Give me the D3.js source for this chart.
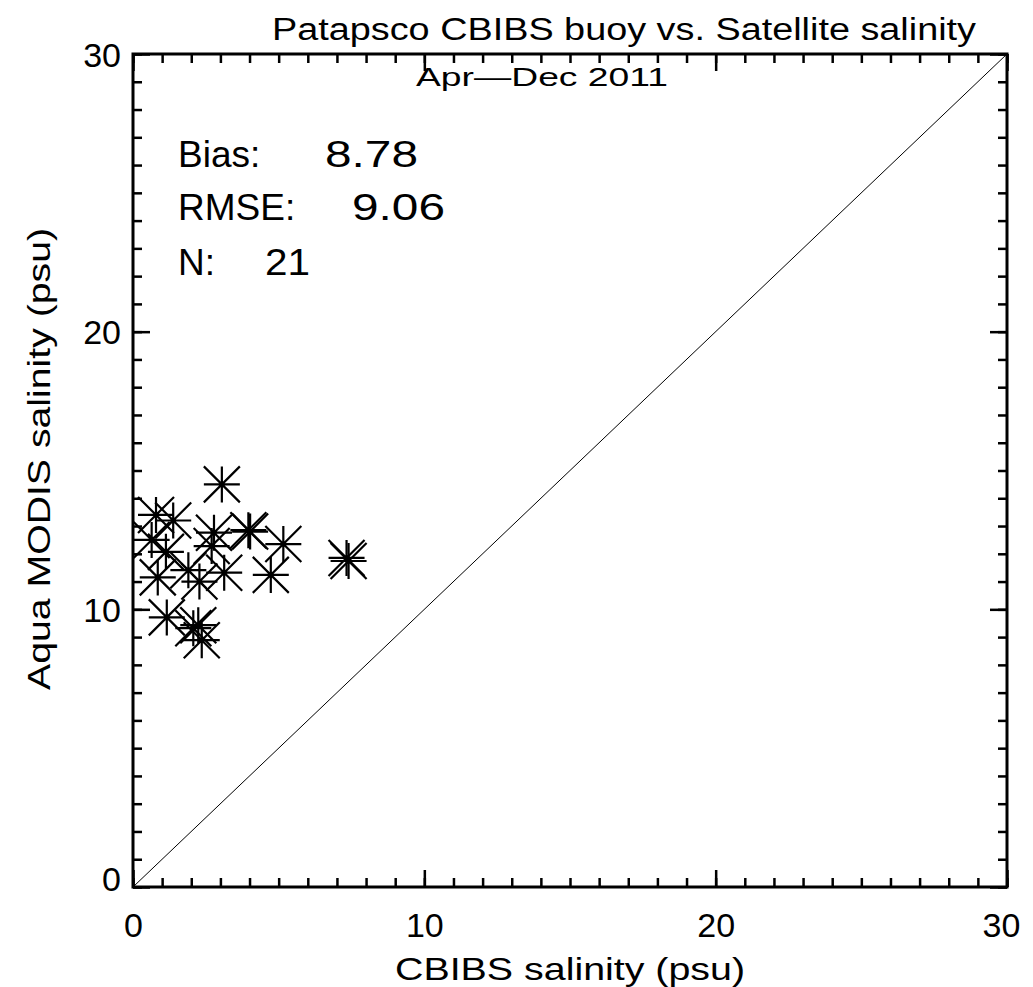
<!DOCTYPE html>
<html>
<head>
<meta charset="utf-8">
<script src="https://cdn.jsdelivr.net/npm/d3@7"></script>
<style>
  body { margin: 0; background: #fff; }
  svg { display: block; }
  text { font-family: "Liberation Sans", Arial, sans-serif; fill: #000; }
</style>
</head>
<body>
<div id="chart"></div>
<script>
// buoy (x) vs satellite (y) salinity, psu
const cbibs = [3.05, 0.79, 1.38, 3.96, 4.02, 2.78, 5.16, 0.64, 2.70, 1.13, 1.90,
               0.85, 2.28, 3.13, 4.73, 1.16, 2.07, 2.24, 2.36, 7.33, 7.40]
const modis = [14.5, 13.4, 13.2, 12.85, 12.8, 12.76, 12.35, 12.5, 12.28, 12.07, 11.41,
               11.15, 11.0, 11.32, 11.24, 9.71, 9.32, 9.43, 8.89, 11.85, 11.74]
const majorTicks = [0, 10, 20, 30]
const minorTicks = d3.range(0, 31, 1)
const statLabels = ["Bias:", "RMSE:", "N:"]
const statValues = ["8.78", "9.06", "21"]

const width = 1033, height = 987
const margin = { top: 54, right: 26, bottom: 100, left: 133 }

const svg = d3.select("#chart").append("svg")
    .attr("width", width)
    .attr("height", height)

const xScale = d3.scaleLinear()
    .domain([0, 30])
    .range([margin.left, width - margin.right])

const yScale = d3.scaleLinear()
    .domain([0, 30])
    .range([height - margin.bottom, margin.top])

const x0 = xScale.range()[0], x1 = xScale.range()[1]
const y0 = yScale.range()[0], y1 = yScale.range()[1]

// 1:1 line
svg.append("line")
    .attr("x1", xScale(0)).attr("y1", yScale(0))
    .attr("x2", xScale(30)).attr("y2", yScale(30))
    .attr("stroke", "#000")
    .attr("stroke-width", 1)

// axes, ticks pointing inwards on all four sides
function styleAxis(g) {
    g.select(".domain").remove()
    g.selectAll(".tick line").attr("stroke", "#000").attr("stroke-width", 2.5)
}

const axes = [
    { axis: d3.axisBottom(xScale), tr: `translate(0,${y0})` },
    { axis: d3.axisTop(xScale), tr: `translate(0,${y1})` },
    { axis: d3.axisLeft(yScale), tr: `translate(${x0},0)` },
    { axis: d3.axisRight(yScale), tr: `translate(${x1},0)` }
]
axes.forEach(a => {
    svg.append("g")
        .attr("transform", a.tr)
        .call(a.axis.tickValues(minorTicks).tickSizeInner(-9).tickSizeOuter(0).tickFormat(""))
        .call(styleAxis)
    svg.append("g")
        .attr("transform", a.tr)
        .call(a.axis.tickValues(majorTicks).tickSizeInner(-17).tickSizeOuter(0).tickFormat(""))
        .call(styleAxis)
})

// tick labels
svg.append("g")
    .attr("transform", `translate(0,${y0})`)
    .call(d3.axisBottom(xScale).tickValues(majorTicks).tickSize(0).tickPadding(26))
    .call(g => g.select(".domain").remove())
    .selectAll("text")
    .attr("font-size", 34)
    .attr("font-family", "Liberation Sans")
    .attr("dy", "0.71em")
    .attr("dx", d => d === 30 ? -6 : 0)

svg.append("g")
    .attr("transform", `translate(${x0},0)`)
    .call(d3.axisLeft(yScale).tickValues(majorTicks).tickSize(0).tickPadding(12))
    .call(g => g.select(".domain").remove())
    .selectAll("text")
    .attr("font-size", 34)
    .attr("font-family", "Liberation Sans")
    .attr("dy", d => d === 0 ? "0.1em" : "0.36em")

// frame
svg.append("rect")
    .attr("x", x0).attr("y", y1)
    .attr("width", x1 - x0).attr("height", y0 - y1)
    .attr("fill", "none")
    .attr("stroke", "#000")
    .attr("stroke-width", 3)

// asterisk symbols
const r = 18
const points = cbibs.map((d, i) => ({ x: cbibs[i], y: modis[i] }))
const stars = svg.append("g").selectAll("g")
    .data(points)
    .join("g")
    .attr("transform", d => `translate(${xScale(d.x)},${yScale(d.y)})`)
stars.append("path")
    .attr("d", `M${-r},0H${r}M0,${-r}V${r}M${-r},${-r}L${r},${r}M${-r},${r}L${r},${-r}`)
    .attr("stroke", "#000")
    .attr("stroke-width", 2.2)
    .attr("fill", "none")

// titles
svg.append("text")
    .attr("x", 272).attr("y", 40)
    .attr("font-size", 31)
    .attr("textLength", 704)
    .attr("lengthAdjust", "spacingAndGlyphs")
    .text("Patapsco CBIBS buoy vs. Satellite salinity")

svg.append("text")
    .attr("x", 395).attr("y", 980)
    .attr("font-size", 32)
    .attr("textLength", 350)
    .attr("lengthAdjust", "spacingAndGlyphs")
    .text("CBIBS salinity (psu)")

svg.append("text")
    .attr("transform", "translate(50,690) rotate(-90)")
    .attr("font-size", 32)
    .attr("textLength", 462)
    .attr("lengthAdjust", "spacingAndGlyphs")
    .text("Aqua MODIS salinity (psu)")

svg.append("text")
    .attr("x", 416).attr("y", 86)
    .attr("font-size", 26)
    .attr("textLength", 252)
    .attr("lengthAdjust", "spacingAndGlyphs")
    .text("Apr\u2014Dec 2011")

// stats
const statX = [352, 352, 265]
const statW = [93, 93, 45]
const statBase = [167, 220, 275]
statLabels.forEach((s, i) => {
    svg.append("text")
        .attr("x", 178).attr("y", statBase[i])
        .attr("font-size", 37)
        .text(s)
    svg.append("text")
        .attr("x", i === 0 ? 325 : statX[i]).attr("y", statBase[i])
        .attr("font-size", 37)
        .attr("textLength", statW[i])
        .attr("lengthAdjust", "spacingAndGlyphs")
        .text(statValues[i])
})
</script>
</body>
</html>
